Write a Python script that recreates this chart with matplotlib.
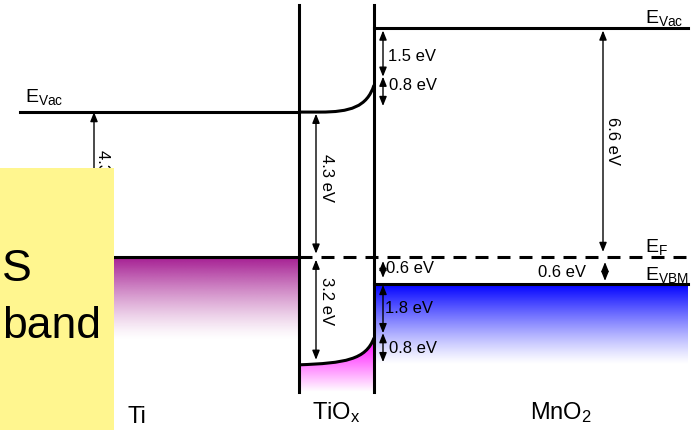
import matplotlib
matplotlib.use('Agg')
import matplotlib.pyplot as plt
import numpy as np
from matplotlib.path import Path
from matplotlib.patches import PathPatch, Rectangle

plt.rcParams['font.family'] = ['Liberation Sans', 'DejaVu Sans']
plt.rcParams['mathtext.fontset'] = 'custom'
plt.rcParams['mathtext.rm'] = 'Liberation Sans'
plt.rcParams['mathtext.it'] = 'Liberation Sans:italic'

# energy levels in eV relative to E_F (as drawn in the schematic)
ti_evac = 4.3
tiox_cb = 4.3
tiox_vb = -3.2
bend = 0.8
mno2_evac = 6.8
mno2_vbm = -0.8
e_f = 0.0

# layout of the three regions (horizontal, schematic units)
ti_x = [20, 299]
tiox_x = [299, 374]
mno2_x = [374, 688]
wall_top, wall_bottom = 7.48, -4.0

# double arrows: x, y_from, y_to
arrows = [
    (94, 0.0, 4.3),
    (316, 0.1, 4.25),
    (316, -0.08, -3.05),
    (383, 6.72, 5.35),
    (383, 5.35, 4.48),
    (383, -0.12, -0.62),
    (383, -0.83, -2.26),
    (383, -2.26, -3.12),
    (603, 6.72, 0.15),
    (605, -0.15, -0.71),
]

# text labels: text, x, y, rotation, ha
labels = [
    ('4.3 eV', 103, 2.45, -90, 'center'),
    ('4.3 eV', 326, 2.34, -90, 'center'),
    ('3.2 eV', 326, -1.3, -90, 'center'),
    ('6.6 eV', 612, 3.45, -90, 'center'),
    ('1.5 eV', 388, 5.95, 0, 'left'),
    ('0.8 eV', 389, 5.1, 0, 'left'),
    ('0.6 eV', 386, -0.33, 0, 'left'),
    ('1.8 eV', 385, -1.53, 0, 'left'),
    ('0.8 eV', 389, -2.73, 0, 'left'),
    ('0.6 eV', 538, -0.45, 0, 'left'),
]

fig = plt.figure(figsize=(6.93, 4.30), dpi=100)
ax = fig.add_axes([0, 0, 1, 1])
ax.set_xlim(0, 693)
ax.set_ylim(-5.134, 7.626)
ax.axis('off')

LW = 2.2


def fade(color, n=200, power=1.0):
    rgba = np.zeros((n, 1, 4))
    rgba[:, 0, :3] = matplotlib.colors.to_rgb(color)
    rgba[:, 0, 3] = np.linspace(1, 0, n) ** power
    return rgba


# Ti filled states under E_F
ax.imshow(fade('#a51d92', power=1.3), extent=[114, ti_x[1], -2.45, e_f],
          aspect='auto', zorder=1)
# MnO2 valence band
ax.imshow(fade('#0000ff', power=1.2), extent=[mno2_x[0], mno2_x[1], -3.2, mno2_vbm],
          aspect='auto', zorder=1)

# TiOx conduction band with band bending
cb_path = Path([(tiox_x[0], tiox_cb), (320, tiox_cb), (350, tiox_cb),
                (367, tiox_cb + 0.15), (tiox_x[1], tiox_cb + bend)],
               [Path.MOVETO, Path.LINETO, Path.CURVE4, Path.CURVE4, Path.CURVE4])
ax.add_patch(PathPatch(cb_path, fill=False, lw=LW, color='black', zorder=3))

# TiOx valence band with band bending and filled area below
vb_verts = [(tiox_x[0], tiox_vb), (345, tiox_vb + 0.05), (366, tiox_vb + 0.15),
            (tiox_x[1], tiox_vb + bend)]
vb_path = Path(vb_verts, [Path.MOVETO, Path.CURVE4, Path.CURVE4, Path.CURVE4])
fill_path = Path(vb_verts + [(tiox_x[1], wall_bottom), (tiox_x[0], wall_bottom),
                             (tiox_x[0], tiox_vb)],
                 [Path.MOVETO, Path.CURVE4, Path.CURVE4, Path.CURVE4,
                  Path.LINETO, Path.LINETO, Path.CLOSEPOLY])
clip = PathPatch(fill_path, facecolor='none', edgecolor='none')
ax.add_patch(clip)
im = ax.imshow(fade('#ff00ff', power=1.0), extent=[tiox_x[0], tiox_x[1], wall_bottom, -2.4],
               aspect='auto', zorder=1)
im.set_clip_path(clip)
ax.add_patch(PathPatch(vb_path, fill=False, lw=LW, color='black', zorder=3))

# levels
ax.plot(ti_x, [ti_evac, ti_evac], color='black', lw=LW, zorder=3)
ax.plot(ti_x, [e_f, e_f], color='black', lw=LW, zorder=3)
ax.plot([tiox_x[0], mno2_x[1]], [e_f, e_f], color='black', lw=LW,
        linestyle=(0, (4.25, 2.95)), zorder=3)
ax.plot(mno2_x, [mno2_evac, mno2_evac], color='black', lw=LW, zorder=3)
ax.plot(mno2_x, [mno2_vbm, mno2_vbm], color='black', lw=LW, zorder=3)

# interface walls of TiOx
for xw in tiox_x:
    ax.plot([xw, xw], [wall_top, wall_bottom], color='black', lw=LW, zorder=4)

for x, y0, y1 in arrows:
    ax.annotate('', xy=(x, y1), xytext=(x, y0),
                arrowprops=dict(arrowstyle='<|-|>,head_length=0.55,head_width=0.22',
                                color='black', lw=1.0, shrinkA=0, shrinkB=0,
                                mutation_scale=10), zorder=5)

for txt, x, y, rot, ha in labels:
    ax.text(x, y, txt, rotation=rot, ha=ha, va='center', fontsize=12, zorder=5)

# level names
ax.text(25, 4.6, r'E$_\mathrm{Vac}$', fontsize=14, ha='left', va='baseline')
ax.text(645, 6.95, r'E$_\mathrm{Vac}$', fontsize=14, ha='left', va='baseline')
ax.text(645, 0.15, r'E$_\mathrm{F}$', fontsize=14, ha='left', va='baseline')
ax.text(645, -0.68, r'E$_\mathrm{VBM}$', fontsize=14, ha='left', va='baseline')

# region names
ax.text(128, -4.92, 'Ti', fontsize=17, ha='left', va='baseline')
ax.text(336, -4.82, r'TiO$_\mathrm{x}$', fontsize=17, ha='center', va='baseline')
ax.text(561, -4.82, r'MnO$_\mathrm{2}$', fontsize=17, ha='center', va='baseline')

# yellow overlay box with the visible part of its caption
ax.add_patch(Rectangle((0, -5.3), 114, 2.64 + 5.3, facecolor='#fff68f',
                       edgecolor='none', zorder=10))
ax.text(2, -0.7, 'S', fontsize=32, ha='left', va='baseline', zorder=11)
ax.text(2, -2.41, 'band', fontsize=32, ha='left', va='baseline', zorder=11)

fig.savefig('out.png', dpi=100)
